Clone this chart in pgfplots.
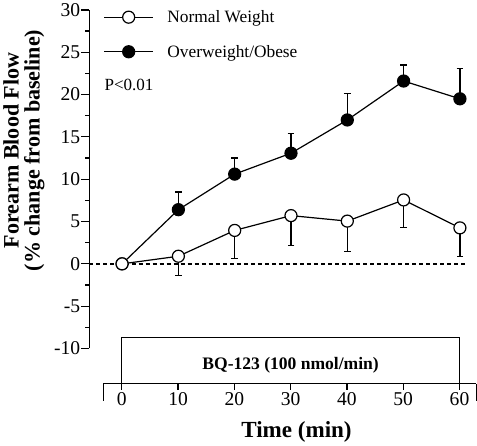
\documentclass[border=0pt]{standalone}
\usepackage{fontspec}
\setmainfont{Liberation Serif}
\usepackage{pgfplots}
\pgfplotsset{compat=1.18}
\begin{document}
\begin{tikzpicture}
\begin{axis}[
  scale only axis,
  width=386.4bp, height=337.7bp,
  xmin=-5.8, xmax=63, ymin=-10, ymax=30,
  axis y line=left, axis x line=none,
  axis line style={-, line width=1.2bp},
  ytick={-10,-5,0,5,10,15,20,25,30},
  minor ytick={-7.5,-2.5,2.5,7.5,12.5,17.5,22.5,27.5},
  tick align=outside,
  major tick length=8bp, minor tick length=4bp,
  every tick/.style={black, line width=1.2bp},
  tick label style={font=\fontsize{19.5bp}{22bp}\selectfont},
  yticklabel style={inner xsep=1bp},
  /pgf/number format/assume math mode=true,
  clip=false,
  ylabel={Forearm Blood Flow\\(\% change from baseline)},
  ylabel style={align=center, font=\fontsize{22bp}{21bp}\selectfont\bfseries, at={(axis description cs:-0.169,0.585)}, anchor=center},
  legend style={draw=none, fill=none, font=\fontsize{17.3bp}{19bp}\selectfont,
    at={(axis cs:-3.33,27.1)}, anchor=west, row sep=21bp, column sep=13.5bp, inner sep=0pt,
    nodes={inner xsep=0bp, inner ysep=0bp}},
  legend cell align=left,
  reverse legend,
  legend image code/.code={\draw[#1] (0bp,0bp) -- (49bp,0bp); \draw[#1] plot coordinates {(24.5bp,0bp)};},
]
\addplot[black, line width=1.3bp, dash pattern=on 4bp off 3bp, forget plot] coordinates {(-5.8,0) (61.3,0)};
\addplot[black, line width=1.2bp, mark=*, mark size=6bp, mark options={solid, fill=black},
  error bars/.cd, y dir=plus, y explicit, error bar style={line width=1.2bp, solid},
  error mark options={line width=1.2bp, mark size=3.3bp, rotate=90}]
  coordinates {(0,0) +- (0,0) (10,6.4) +- (0,2.1) (20,10.6) +- (0,1.9) (30,13.07) +- (0,2.3) (40,17.0) +- (0,3.1) (50,21.6) +- (0,1.9) (60,19.5) +- (0,3.6)};
\addlegendentry{Overweight/Obese}
\addplot[black, line width=1.2bp, mark=*, mark size=6bp, mark options={solid, fill=white},
  error bars/.cd, y dir=minus, y explicit, error bar style={line width=1.2bp, solid},
  error mark options={line width=1.2bp, mark size=3.3bp, rotate=90}]
  coordinates {(0,0) +- (0,0) (10,0.9) +- (0,2.3) (20,3.95) +- (0,3.3) (30,5.7) +- (0,3.5) (40,5.05) +- (0,3.6) (50,7.55) +- (0,3.3) (60,4.25) +- (0,3.35)};
\addlegendentry{Normal Weight}
\node[anchor=west, font=\fontsize{17bp}{20bp}\selectfont, inner sep=0pt] at (axis cs:-3.15,21.1) {P<0.01};
\end{axis}
\begin{axis}[
  at={(13.7bp,-35.3bp)}, anchor=south west,
  scale only axis,
  width=372.3bp, height=46bp,
  xmin=-3.3, xmax=63, ymin=0, ymax=1,
  axis x line=bottom, axis y line=none,
  axis line style={-, line width=1.2bp},
  xtick={0,10,20,30,40,50,60},
  tick align=outside, major tick length=6bp,
  every tick/.style={black, line width=1.2bp},
  tick label style={font=\fontsize{19.5bp}{22bp}\selectfont},
  xticklabel style={inner ysep=2bp},
  /pgf/number format/assume math mode=true,
  clip=false,
  xlabel={Time (min)},
  xlabel style={font=\fontsize{23bp}{24bp}\selectfont\bfseries, at={(axis description cs:0.518,0)}, anchor=center, yshift=-48bp},
]
\addplot[black, line width=1.2bp] coordinates {(0,0) (0,1) (60,1) (60,0)};
\node[font=\fontsize{17.5bp}{20bp}\selectfont\bfseries] at (axis cs:30,0.41) {BQ-123 (100 nmol/min)};
\draw[line width=1.2bp] (rel axis cs:0,0) -- ++(0bp,-17bp);
\draw[line width=1.2bp] (rel axis cs:1,0) -- ++(0bp,-17bp);
\end{axis}
\end{tikzpicture}
\end{document}
